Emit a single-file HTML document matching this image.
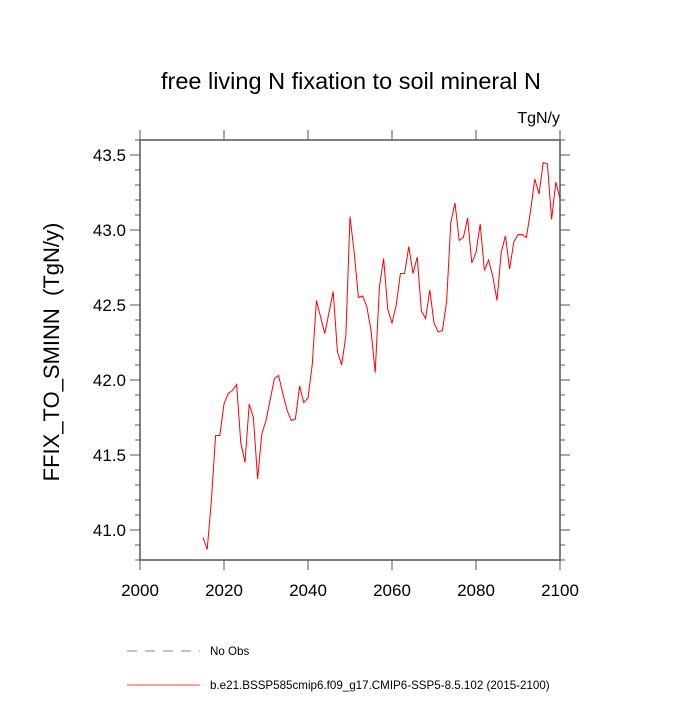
<!DOCTYPE html>
<html><head><meta charset="utf-8"><style>
body{margin:0;background:#fff}
svg text{font-family:"Liberation Sans",sans-serif}
</style></head><body>
<svg id="c" width="700" height="700" viewBox="0 0 700 700">
<text x="351" y="89" font-size="23.5" text-anchor="middle">free living N fixation to soil mineral N</text>
<text x="560" y="123" font-size="16" text-anchor="end">TgN/y</text>
<text transform="translate(59,352) rotate(-90)" font-size="22" text-anchor="middle">FFIX_TO_SMINN&#160;&#160;(TgN/y)</text>
<g id="axes"></g>
<polyline id="line" fill="none" stroke="#ff0000" stroke-width="1"/>
<line x1="127" y1="651" x2="200" y2="651" stroke="#888" stroke-dasharray="10,8"/>
<text x="210" y="655" font-size="11.6">No Obs</text>
<line x1="127" y1="685" x2="200" y2="685" stroke="#ff0000" stroke-width="0.7"/>
<text x="210" y="689" font-size="11.6">b.e21.BSSP585cmip6.f09_g17.CMIP6-SSP5-8.5.102 (2015-2100)</text>
</svg>
<script>
const startYear = 2015;
const values = [40.95,40.87,41.2,41.63,41.63,41.84,41.91,41.93,41.97,41.58,41.45,41.84,41.75,41.34,41.64,41.73,41.87,42.01,42.03,41.91,41.80,41.73,41.74,41.96,41.85,41.88,42.1,42.53,42.42,42.31,42.45,42.59,42.19,42.10,42.29,43.09,42.85,42.55,42.56,42.49,42.33,42.05,42.62,42.81,42.47,42.38,42.50,42.71,42.71,42.89,42.71,42.82,42.46,42.41,42.60,42.38,42.32,42.33,42.52,43.05,43.18,42.93,42.95,43.08,42.78,42.85,43.04,42.73,42.80,42.69,42.53,42.85,42.96,42.74,42.92,42.97,42.97,42.95,43.13,43.34,43.24,43.45,43.44,43.07,43.32,43.21];
const xTicks = [2000,2020,2040,2060,2080,2100];
const yTicks = [41.0,41.5,42.0,42.5,43.0,43.5];
const yMin=40.8,yMax=43.6,xMin=2000,xMax=2100;
const L=140,R=560,T=140,B=560;
const sx=v=>L+(v-xMin)/(xMax-xMin)*(R-L);
const sy=v=>B-(v-yMin)/(yMax-yMin)*(B-T);
const NS='http://www.w3.org/2000/svg';
const g=document.getElementById('axes');
function ln(x1,y1,x2,y2,w,name){const e=document.createElementNS(NS,'line');e.setAttribute('x1',x1);e.setAttribute('y1',y1);e.setAttribute('x2',x2);e.setAttribute('y2',y2);e.setAttribute('stroke','#555');e.setAttribute('stroke-width',w);


g.appendChild(e);}
ln(L,T,R,T,1.5,'plot-frame-top');ln(L,B,R,B,1.5,'plot-frame-bottom');ln(L,T,L,B,1.5,'plot-frame-left');ln(R,T,R,B,1.5,'plot-frame-right');
for(let v=40.8;v<=43.61;v+=0.1){const y=sy(v);const maj=Math.abs(v*2-Math.round(v*2))<0.01;const len=maj?10:5;ln(L-len,y,L,y,1,'y-tick');ln(R,y,R+len,y,1,'y-tick');}
xTicks.forEach(v=>{const x=sx(v);ln(x,B,x,B+10,1,'x-tick');ln(x,T-10,x,T,1,'x-tick');
const t=document.createElementNS(NS,'text');t.setAttribute('x',x);t.setAttribute('y',B+36);t.setAttribute('font-size','17');t.setAttribute('text-anchor','middle');t.textContent=v;


g.appendChild(t);});
yTicks.forEach(v=>{const t=document.createElementNS(NS,'text');t.setAttribute('x',L-14);t.setAttribute('y',sy(v)+6);t.setAttribute('font-size','17');t.setAttribute('text-anchor','end');t.textContent=v.toFixed(1);


g.appendChild(t);});
document.getElementById('line').setAttribute('points',values.map((v,i)=>sx(startYear+i)+','+sy(v)).join(' '));
</script>
</body></html>
